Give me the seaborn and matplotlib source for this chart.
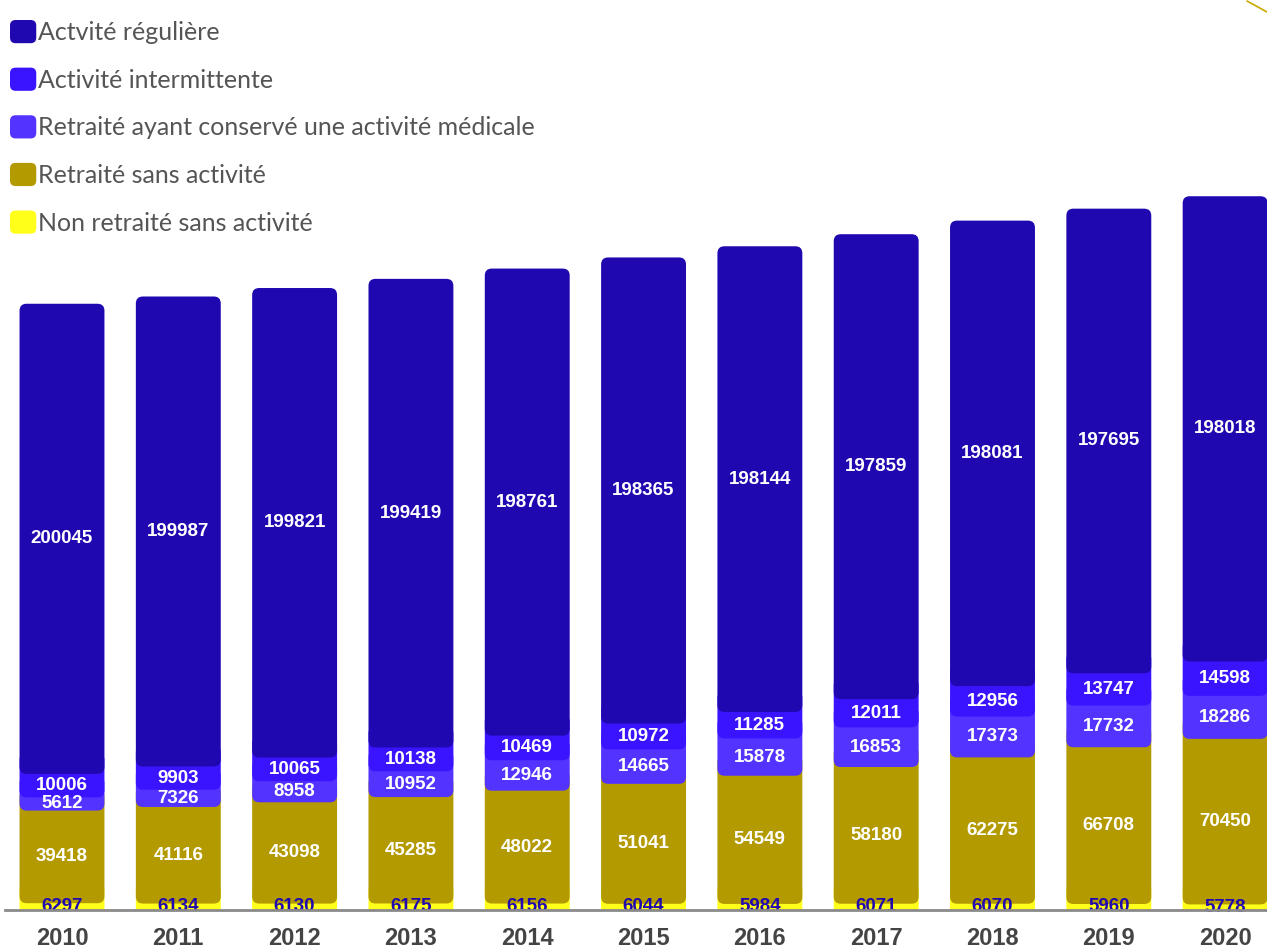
import numpy as np
import pandas as pd
import matplotlib
matplotlib.use("Agg")
import matplotlib.pyplot as plt
import seaborn as sns
from matplotlib.patches import FancyBboxPatch, Patch
from matplotlib.legend_handler import HandlerPatch
from matplotlib.lines import Line2D

# ---------------- data ----------------
years = ["2010", "2011", "2012", "2013", "2014", "2015", "2016", "2017", "2018", "2019", "2020"]
non_retraite_sans = [6297, 6134, 6130, 6175, 6156, 6044, 5984, 6071, 6070, 5960, 5778]
retraite_sans = [39418, 41116, 43098, 45285, 48022, 51041, 54549, 58180, 62275, 66708, 70450]
retraite_actif = [5612, 7326, 8958, 10952, 12946, 14665, 15878, 16853, 17373, 17732, 18286]
intermittente = [10006, 9903, 10065, 10138, 10469, 10972, 11285, 12011, 12956, 13747, 14598]
reguliere = [200045, 199987, 199821, 199419, 198761, 198365, 198144, 197859, 198081, 197695, 198018]

series_names = ["Non retraité sans activité", "Retraité sans activité",
                "Retraité ayant conservé une activité médicale",
                "Activité intermittente", "Actvité régulière"]
series_values = [non_retraite_sans, retraite_sans, retraite_actif, intermittente, reguliere]
colors = ["#FFFF1A", "#B39A00", "#5233FF", "#3A14FF", "#2008B0"]
label_colors = ["#2008B0", "white", "white", "white", "white"]

# ---------------- figure ----------------
sns.set_theme(style="white")
plt.rcParams["font.family"] = ["Liberation Sans", "DejaVu Sans"]

W, H = 1267, 951
fig = plt.figure(figsize=(W / 100, H / 100), dpi=100)
ax_left, ax_bottom_px, ax_right = 5, 910, W
ax = fig.add_axes([ax_left / W, 1 - ax_bottom_px / H, (ax_right - ax_left) / W, ax_bottom_px / H])

px_per_unit = 0.00235
Y0 = 3400
Y1 = Y0 + ax_bottom_px / px_per_unit
X0, X1 = -0.49, 10.36
px_per_x = (ax_right - ax_left) / (X1 - X0)

r_px = 7
rx = r_px / px_per_x
ry = r_px / px_per_unit
aspect = ry / rx
ext = 3 * ry

cum = np.zeros(len(years))
n_series = len(series_values)
for i, (name, vals, col) in enumerate(zip(series_names, series_values, colors)):
    vals = np.array(vals, dtype=float)
    bottom = cum.copy()
    top = cum + vals
    cum = top
    before = len(ax.patches)
    df = pd.DataFrame({"year": years, "top": top})
    sns.barplot(data=df, x="year", y="top", color=col, saturation=1, width=0.73,
                errorbar=None, ax=ax)
    new = list(ax.patches[before:])
    for j, rect in enumerate(new):
        x, w = rect.get_x(), rect.get_width()
        rect.remove()
        hgt = top[j] - bottom[j] + (ext if i < n_series - 1 else 0)
        fb = FancyBboxPatch((x, bottom[j]), w, hgt,
                            boxstyle=f"round,pad=0,rounding_size={rx}",
                            mutation_aspect=aspect, fc=col, ec="none", zorder=2 + i)
        ax.add_patch(fb)
        vis_bottom = max(bottom[j], Y0)
        ax.text(x + w / 2, (vis_bottom + top[j]) / 2, f"{int(vals[j])}",
                ha="center", va="center", color=label_colors[i],
                fontsize=13.5, fontweight="bold", zorder=20, clip_on=False)

ax.set_xlim(X0, X1)
ax.set_ylim(Y0, Y1)
ax.set_xlabel("")
ax.set_ylabel("")
ax.set_yticks([])
for s in ["top", "left", "right"]:
    ax.spines[s].set_visible(False)
ax.spines["bottom"].set_color("#8a8a8a")
ax.spines["bottom"].set_linewidth(2)
ax.spines["bottom"].set_zorder(30)
ax.tick_params(axis="x", length=0, pad=12, labelsize=17, labelcolor="#444444")
for t in ax.get_xticklabels():
    t.set_fontweight("bold")
ax.patch.set_alpha(0)


# ---------------- legend ----------------
def make_round(legend, orig_handle, xdescent, ydescent, width, height, fontsize):
    return FancyBboxPatch((-xdescent, -ydescent), width, height,
                          boxstyle="round,pad=0,rounding_size=4")


handles = [Patch(facecolor=c, edgecolor="none") for c in colors[::-1]]
leg = ax.legend(handles, series_names[::-1], loc="upper left",
                bbox_to_anchor=(10 / W, 1 - 20 / H), bbox_transform=fig.transFigure,
                frameon=False, borderpad=0, borderaxespad=0,
                handlelength=1.05, handleheight=1.05, handletextpad=0.08,
                labelspacing=0.94,
                prop={"family": ["Lato", "DejaVu Sans"], "weight": "normal", "size": 18},
                handler_map={Patch: HandlerPatch(patch_func=make_round)})
for t in leg.get_texts():
    t.set_color("#555555")
leg.set_zorder(40)

# small decorative stroke in the top-right corner
fig.add_artist(Line2D([1247 / W, 1.0], [1 - 1 / H, 1 - 12 / H], transform=fig.transFigure,
                      color="#C8A800", lw=1.2))

fig.savefig("out.png", dpi=100)
